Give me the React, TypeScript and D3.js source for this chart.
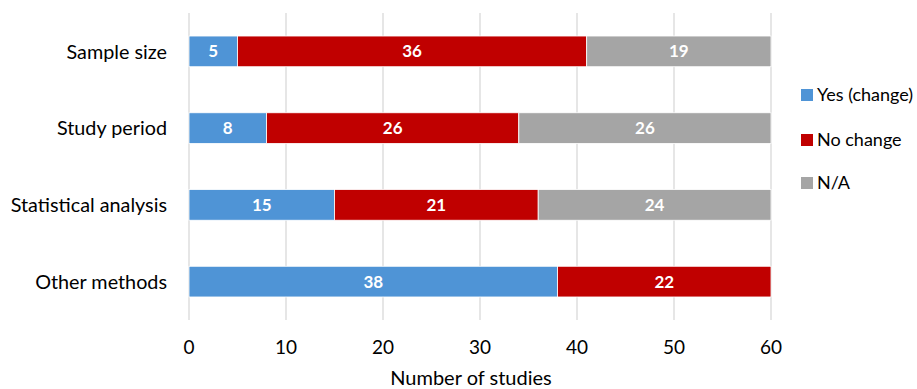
import * as d3 from "d3";

// categories (top to bottom)
const categories = ["Sample size", "Study period", "Statistical analysis", "Other methods"];
const seriesNames = ["Yes (change)", "No change", "N/A"];
const yesValues = [5, 8, 15, 38];
const noChangeValues = [36, 26, 21, 22];
const naValues = [19, 26, 24, 0];
const xTicks = [0, 10, 20, 30, 40, 50, 60];

const COLORS = ["#4F94D6", "#C00000", "#A5A5A5"];
const FONT = "Lato, 'Open Sans', sans-serif";

const W = 917;
const H = 389;

export default function App() {
  const x = d3.scaleLinear().domain([0, 60]).range([189, 771]);
  const y = d3.scaleBand().domain(categories).range([13, 320]).paddingInner(0.6).paddingOuter(0.3);

  const rows = categories.map((c, i) => ({
    cat: c,
    yes: yesValues[i],
    no: noChangeValues[i],
    na: naValues[i],
  }));
  const stack = d3.stack<any>().keys(["yes", "no", "na"])(rows);

  return (
    <svg width={W} height={H} style={{ display: "block", position: "absolute", left: 0, top: 0 }} fontFamily={FONT}>
      <rect width={W} height={H} fill="#fff" />
      {/* gridlines */}
      {xTicks.map((t) => (
        <line key={t} x1={x(t)} x2={x(t)} y1={13} y2={320} stroke="#D9D9D9" strokeWidth={1.3} />
      ))}
      {/* bars */}
      {stack.map((s, si) =>
        s.map((d, di) => {
          const v = d[1] - d[0];
          if (v <= 0) return null;
          const x0 = x(d[0]);
          const x1 = x(d[1]);
          const yy = y(categories[di])!;
          return (
            <g key={`${si}-${di}`}>
              <rect x={x0} y={yy} width={x1 - x0} height={y.bandwidth()} fill={COLORS[si]} stroke="#fff" strokeWidth={0.8} />
              <text
                x={(x0 + x1) / 2}
                y={yy + y.bandwidth() / 2}
                dy="0.36em"
                textAnchor="middle"
                fill="#fff"
                fontWeight="bold"
                fontSize={17}
              >
                {v}
              </text>
            </g>
          );
        })
      )}
      {/* category labels */}
      {categories.map((c) => (
        <text key={c} x={167} y={y(c)! + y.bandwidth() / 2} dy="0.36em" textAnchor="end" fontSize={19.8} fill="#000">
          {c}
        </text>
      ))}
      {/* x tick labels */}
      {xTicks.map((t) => (
        <text key={t} x={x(t)} y={354} textAnchor="middle" fontSize={19} fill="#000">
          {t}
        </text>
      ))}
      <text x={471} y={385} textAnchor="middle" fontSize={20} fill="#000">
        Number of studies
      </text>
      {/* legend */}
      {seriesNames.map((n, i) => (
        <g key={n}>
          <rect x={801} y={[95, 140, 183][i] - 6} width={12} height={12} fill={COLORS[i]} />
          <text x={817} y={[95, 140, 183][i]} dy="0.36em" fontSize={18} fill="#000">
            {n}
          </text>
        </g>
      ))}
    </svg>
  );
}
